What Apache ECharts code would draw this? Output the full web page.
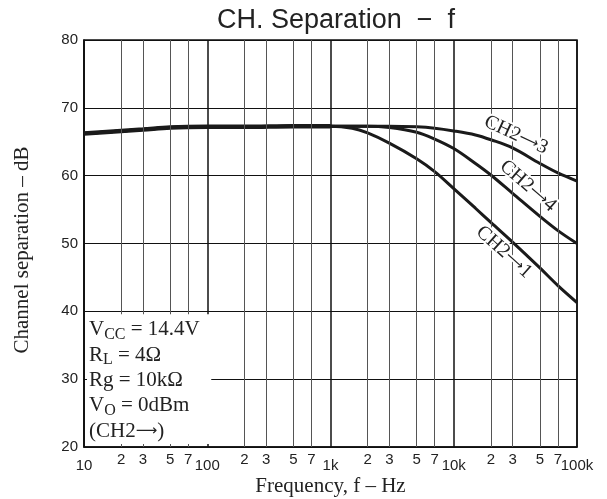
<!DOCTYPE html>
<html>
<head>
<meta charset="utf-8">
<script src="https://cdn.jsdelivr.net/npm/echarts@6/dist/echarts.min.js"></script>
<style>html,body{margin:0;padding:0;background:#fff;}#c{width:607px;height:499px;}</style>
</head>
<body>
<div id="c"></div>
<script>
// ---- data ----
const baseFreq = [10, 20, 30, 50, 100, 200, 500, 1000];
const baseSep  = [66.2, 66.6, 66.8, 67.1, 67.2, 67.2, 67.3, 67.3];
const ch1Freq = [1500, 2000, 3000, 5000, 7000, 10000, 15000, 20000, 30000, 50000, 70000, 100000];
const ch1Sep  = [67.0, 66.3, 64.8, 62.5, 60.6, 58.1, 55.2, 53.1, 50.2, 46.4, 43.8, 41.3];
const ch4Freq = [2000, 3000, 5000, 7000, 10000, 15000, 20000, 30000, 50000, 70000, 100000];
const ch4Sep  = [67.3, 67.1, 66.4, 65.4, 64.0, 61.8, 60.1, 57.4, 54.0, 51.9, 50.0];
const ch3Freq = [3000, 5000, 7000, 10000, 15000, 20000, 30000, 50000, 70000, 100000];
const ch3Sep  = [67.3, 67.2, 67.0, 66.6, 66.0, 65.3, 64.1, 61.8, 60.4, 59.2];
const majorLabels = {10: '10', 100: '100', 1000: '1k', 10000: '10k', 100000: '100k'};
const minorTicks = [20, 30, 50, 70, 200, 300, 500, 700, 2000, 3000, 5000, 7000, 20000, 30000, 50000, 70000];
const yTicks = [20, 30, 40, 50, 60, 70, 80];
const condLines = [
  '{n|V}{s|CC}{n| = 14.4V}',
  '{n|R}{s|L}{n| = 4Ω}',
  '{n|Rg = 10kΩ}',
  '{n|V}{s|O}{n| = 0dBm}',
  '{n|(CH2}{a|⟶}{n|)}'
];
const curveNames = ['CH2{a|⟶}3', 'CH2{a|⟶}4', 'CH2{a|⟶}1'];

const SANS = '"Liberation Sans", Arial, sans-serif';
const SERIF = '"Liberation Serif", "Times New Roman", serif';
const ARROW = '"DejaVu Sans", sans-serif';

function pairs(fx, fy) { return fx.map((f, i) => [f, fy[i]]); }
const basePairs = pairs(baseFreq, baseSep);

const chart = echarts.init(document.getElementById('c'), null, {renderer: 'canvas'});

function curve(name, fx, fy, width) {
  return {
    name: name, type: 'line', data: basePairs.concat(pairs(fx, fy)),
    showSymbol: false, symbol: 'none', smooth: 0.35, z: 3,
    lineStyle: {color: '#1a1a1a', width: width}
  };
}

const option = {
  animation: false,
  title: {
    text: 'CH. Separation  −  f', left: 331, top: 2, textAlign: 'center',
    textStyle: {fontFamily: SANS, fontSize: 27, fontWeight: 'normal', color: '#222'}
  },
  grid: {left: 84, right: 30, top: 40, bottom: 52, containLabel: false, outerBoundsMode: 'none',
    show: true, borderColor: '#111', borderWidth: 1.5, backgroundColor: 'transparent'},
  xAxis: {
    type: 'log', logBase: 10, min: 10, max: 100000,
    name: 'Frequency, f – Hz', nameLocation: 'middle', nameGap: 29, nameMoveOverlap: false,
    nameTextStyle: {fontFamily: SERIF, fontSize: 21, color: '#222'},
    axisLine: {show: true, lineStyle: {color: '#111', width: 1.5}},
    axisTick: {show: false},
    axisLabel: {
      margin: 11, fontFamily: SANS, fontSize: 15, color: '#222', showMinLabel: true, showMaxLabel: true,
      formatter: v => majorLabels[Math.round(v)] || ''
    },
    splitLine: {show: true, lineStyle: {color: '#111', width: 1.5}},
    minorTick: {show: false}, minorSplitLine: {show: false}
  },
  yAxis: {
    type: 'value', min: 20, max: 80, interval: 10,
    axisLine: {show: true, lineStyle: {color: '#111', width: 1.5}},
    axisTick: {show: false},
    axisLabel: {margin: 6, fontFamily: SANS, fontSize: 15, color: '#222',
      formatter: v => yTicks.indexOf(v) >= 0 ? String(v) : ''},
    splitLine: {show: true, lineStyle: {color: '#111', width: 1}}
  },
  series: [
    {
      name: 'base', type: 'line', data: pairs(baseFreq, baseSep), showSymbol: false, symbol: 'none',
      smooth: 0.35, z: 4, lineStyle: {color: '#1a1a1a', width: 4.5},
      markLine: {
        silent: true, symbol: ['none', 'none'], animation: false,
        lineStyle: {type: 'solid', color: '#555', width: 1},
        label: {show: true, position: 'start', distance: 5, fontFamily: SANS, fontSize: 15, color: '#222',
          formatter: p => String(Math.round(p.value / Math.pow(10, Math.floor(Math.log10(p.value) + 1e-9))))},
        emphasis: {disabled: true},
        data: minorTicks.map(v => ({xAxis: v}))
      }
    },
    curve('CH2→1', ch1Freq, ch1Sep, 3),
    curve('CH2→4', ch4Freq, ch4Sep, 3),
    curve('CH2→3', ch3Freq, ch3Sep, 3)
  ]
};
chart.setOption(option);

// annotations placed relative to the grid
const pA = chart.convertToPixel({xAxisIndex: 0, yAxisIndex: 0}, [10, 40]);
const pB = chart.convertToPixel({xAxisIndex: 0, yAxisIndex: 0}, [100, 20]);
const boxL = pA[0] + 3, boxT = pA[1] + 3, boxR = pB[0] + 4, boxB = pB[1] - 3;

function curveLabel(text, x, y, deg) {
  return {
    type: 'text', x: x, y: y, rotation: -deg * Math.PI / 180, z: 60,
    style: {text: text, fontFamily: SERIF, fontSize: 20, fill: '#222', align: 'center', verticalAlign: 'middle',
      stroke: '#fff', lineWidth: 4,
      rich: {a: {fontFamily: ARROW, fontSize: 14, fill: '#222', stroke: '#fff', lineWidth: 4}}}
  };
}

chart.setOption({
  graphic: [
    {type: 'rect', z: 50, shape: {x: boxL, y: boxT, width: boxR - boxL, height: boxB - boxT},
      style: {fill: '#fff', stroke: null}},
    {type: 'text', z: 55, x: pA[0] + 5, y: boxT + 3,
      style: {text: condLines.join('\n'), align: 'left', verticalAlign: 'top', fill: '#222',
        rich: {
          n: {fontFamily: SERIF, fontSize: 21, lineHeight: 25.3, fill: '#222', verticalAlign: 'middle'},
          s: {fontFamily: SERIF, fontSize: 16, lineHeight: 12, fill: '#222', verticalAlign: 'bottom'},
          a: {fontFamily: ARROW, fontSize: 15, lineHeight: 25.3, fill: '#222', verticalAlign: 'middle'}
        }}},
    {type: 'text', z: 55, x: 22, y: 250, rotation: Math.PI / 2,
      style: {text: 'Channel separation – dB', fontFamily: SERIF, fontSize: 21, fill: '#222',
        align: 'center', verticalAlign: 'middle'}},
    curveLabel(curveNames[0], 516, 135, 25),
    curveLabel(curveNames[1], 528, 186, 41),
    curveLabel(curveNames[2], 504, 252, 42)
  ]
});
</script>
</body>
</html>
